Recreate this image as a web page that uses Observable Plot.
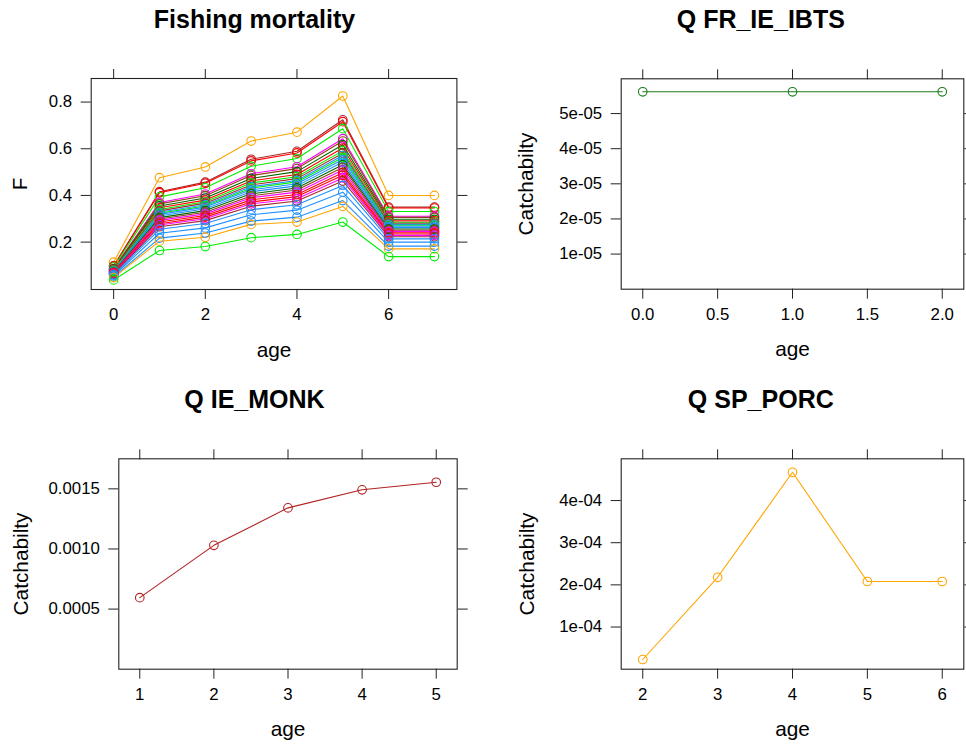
<!DOCTYPE html>
<html><head><meta charset="utf-8">
<script src="https://cdn.jsdelivr.net/npm/d3@7"></script>
<script src="https://cdn.jsdelivr.net/npm/@observablehq/plot@0.6"></script>
<style>
html,body{margin:0;padding:0;background:#fff;overflow:hidden}
#wrap{position:relative;width:966px;height:747px;background:#fff}
.panel{position:absolute}
.panel svg{overflow:visible}
</style></head><body><div id="wrap"></div>
<script>
// ---------- Fishing mortality ----------
const fAges = [0, 1, 2, 3, 4, 5, 6, 7];
const fColors = [
  "#FFA500", "#A52A2A", "#FF0000", "#00EE00", "#FF00FF", "#8B4513", "#006400",
  "#FF0000", "#00EE00", "#A52A2A", "#1E90FF", "#00EE00", "#1E90FF", "#1E90FF",
  "#006400", "#8B4513", "#FF00FF", "#FF0000", "#FF0000", "#FF00FF", "#A52A2A",
  "#1E90FF", "#1E90FF", "#1E90FF", "#FFA500", "#00EE00"
];
const fValues = [
  [0.114, 0.476, 0.522, 0.633, 0.671, 0.826, 0.400, 0.400],
  [0.098, 0.416, 0.457, 0.555, 0.589, 0.724, 0.350, 0.350],
  [0.097, 0.412, 0.452, 0.548, 0.582, 0.716, 0.346, 0.346],
  [0.093, 0.394, 0.433, 0.525, 0.558, 0.686, 0.331, 0.331],
  [0.087, 0.370, 0.406, 0.493, 0.523, 0.643, 0.311, 0.311],
  [0.086, 0.364, 0.399, 0.485, 0.515, 0.633, 0.306, 0.306],
  [0.084, 0.355, 0.389, 0.473, 0.502, 0.617, 0.298, 0.298],
  [0.082, 0.347, 0.380, 0.462, 0.490, 0.603, 0.291, 0.291],
  [0.080, 0.340, 0.373, 0.453, 0.480, 0.591, 0.285, 0.285],
  [0.079, 0.334, 0.367, 0.445, 0.472, 0.581, 0.281, 0.281],
  [0.078, 0.328, 0.360, 0.437, 0.464, 0.571, 0.276, 0.276],
  [0.077, 0.324, 0.355, 0.431, 0.458, 0.563, 0.272, 0.272],
  [0.075, 0.319, 0.350, 0.424, 0.450, 0.554, 0.268, 0.268],
  [0.074, 0.312, 0.343, 0.416, 0.441, 0.543, 0.262, 0.262],
  [0.072, 0.305, 0.335, 0.407, 0.432, 0.531, 0.256, 0.256],
  [0.071, 0.299, 0.328, 0.398, 0.423, 0.520, 0.251, 0.251],
  [0.069, 0.293, 0.321, 0.390, 0.414, 0.509, 0.246, 0.246],
  [0.068, 0.286, 0.314, 0.381, 0.404, 0.497, 0.240, 0.240],
  [0.066, 0.279, 0.307, 0.372, 0.395, 0.486, 0.235, 0.235],
  [0.065, 0.273, 0.300, 0.364, 0.386, 0.475, 0.229, 0.229],
  [0.063, 0.266, 0.292, 0.354, 0.376, 0.462, 0.223, 0.223],
  [0.060, 0.255, 0.280, 0.339, 0.360, 0.443, 0.214, 0.214],
  [0.056, 0.238, 0.261, 0.317, 0.337, 0.414, 0.200, 0.200],
  [0.051, 0.217, 0.239, 0.290, 0.307, 0.378, 0.183, 0.183],
  [0.048, 0.204, 0.221, 0.276, 0.286, 0.353, 0.171, 0.171],
  [0.038, 0.164, 0.181, 0.219, 0.233, 0.286, 0.138, 0.138]
];
const fXTicks = [0, 2, 4, 6];
const fXTickLabels = ["0", "2", "4", "6"];
const fYTicks = [0.2, 0.4, 0.6, 0.8];
const fYTickLabels = ["0.2", "0.4", "0.6", "0.8"];

// ---------- Q FR_IE_IBTS ----------
const ibtsAges = [0, 1, 2];
const ibtsQ = [5.62e-5, 5.62e-5, 5.62e-5];
const ibtsXTicks = [0, 0.5, 1, 1.5, 2];
const ibtsXTickLabels = ["0.0", "0.5", "1.0", "1.5", "2.0"];
const ibtsYTicks = [1e-5, 2e-5, 3e-5, 4e-5, 5e-5];
const ibtsYTickLabels = ["1e-05", "2e-05", "3e-05", "4e-05", "5e-05"];

// ---------- Q IE_MONK ----------
const monkAges = [1, 2, 3, 4, 5];
const monkQ = [0.000595, 0.00103, 0.001342, 0.001492, 0.001555];
const monkXTicks = [1, 2, 3, 4, 5];
const monkXTickLabels = ["1", "2", "3", "4", "5"];
const monkYTicks = [0.0005, 0.001, 0.0015];
const monkYTickLabels = ["0.0005", "0.0010", "0.0015"];

// ---------- Q SP_PORC ----------
const porcAges = [2, 3, 4, 5, 6];
const porcQ = [2.3e-5, 2.18e-4, 4.67e-4, 2.08e-4, 2.08e-4];
const porcXTicks = [2, 3, 4, 5, 6];
const porcXTickLabels = ["2", "3", "4", "5", "6"];
const porcYTicks = [1e-4, 2e-4, 3e-4, 4e-4];
const porcYTickLabels = ["1e-04", "2e-04", "3e-04", "4e-04"];

const FONT = "'Liberation Sans', Arial, Helvetica, sans-serif";
const INK = "#222";

function fmt(ticks, labels) {
  return d => { const i = ticks.indexOf(d); return i >= 0 ? labels[i] : ""; };
}

function panel(o) {
  const marks = [
    Plot.frame({stroke: INK, strokeWidth: 1.1}),
    Plot.axisX({anchor: "bottom", ticks: o.xTicks, tickSize: 10, tickPadding: 9,
      tickFormat: fmt(o.xTicks, o.xLabels), label: null, stroke: INK, fill: "#000"}),
    Plot.axisX({anchor: "top", ticks: o.xTicks, tickSize: 10,
      tickFormat: () => "", label: null, stroke: INK}),
    Plot.axisY({anchor: "left", ticks: o.yTicks, tickSize: 10, tickPadding: 9,
      tickFormat: fmt(o.yTicks, o.yLabels), label: null, stroke: INK, fill: "#000"}),
    Plot.axisY({anchor: "right", ticks: o.yTicks, tickSize: 10,
      tickFormat: () => "", label: null, stroke: INK}),
    Plot.line(o.data, {x: "age", y: "v", z: "s", stroke: "c", strokeWidth: 1.1}),
    Plot.dot(o.data, {x: "age", y: "v", stroke: "c", fill: "none", r: 4.3, strokeWidth: 1.1}),
    Plot.text([o.title], {frameAnchor: "top-left", dx: o.titleX - o.ml, dy: o.titleBase - o.mt,
      lineAnchor: "bottom", textAnchor: "middle", fontSize: 25, fontWeight: "bold", fill: "#000"}),
    Plot.text(["age"], {frameAnchor: "bottom", dy: 67, lineAnchor: "bottom",
      textAnchor: "middle", fontSize: 20.8, fill: "#000"}),
    Plot.text([o.ylab], {frameAnchor: "left", dx: o.ylabDx, rotate: -90,
      textAnchor: "middle", lineAnchor: "middle", fontSize: 20.8, fill: "#000"})
  ];
  const chart = Plot.plot({
    width: o.width, height: o.height,
    marginTop: o.mt, marginBottom: o.mb, marginLeft: o.ml, marginRight: o.mr,
    x: {domain: o.xDomain},
    y: {domain: o.yDomain},
    color: {type: "identity"},
    style: {fontFamily: FONT, fontSize: "16.8px", color: "#000", background: "transparent", overflow: "visible"},
    marks
  });
  const div = document.createElement("div");
  div.className = "panel";
  div.style.left = o.left + "px";
  div.style.top = o.top + "px";
  div.appendChild(chart);
  document.getElementById("wrap").appendChild(div);
}

const fData = fValues.flatMap((vals, k) => vals.map((v, j) => ({age: fAges[j], v, s: k, c: fColors[k]})));
const ibtsData = ibtsAges.map((a, j) => ({age: a, v: ibtsQ[j], s: 0, c: "#1B7A1B"}));
const monkData = monkAges.map((a, j) => ({age: a, v: monkQ[j], s: 0, c: "#B22222"}));
const porcData = porcAges.map((a, j) => ({age: a, v: porcQ[j], s: 0, c: "#FFA500"}));

panel({left: 0, top: 0, width: 483, height: 373, mt: 78, mb: 84, ml: 90.7, mr: 26.6,
  xDomain: [-0.49, 7.49], yDomain: [-0.003, 0.901],
  xTicks: fXTicks, xLabels: fXTickLabels, yTicks: fYTicks, yLabels: fYTickLabels,
  data: fData, title: "Fishing mortality", titleX: 254, titleBase: 27.3, ylab: "F", ylabDx: -70.7});

panel({left: 483, top: 0, width: 483, height: 373, mt: 78.3, mb: 84.3, ml: 137.7, mr: 2.7,
  xDomain: [-0.144, 2.144], yDomain: [0, 5.99e-5],
  xTicks: ibtsXTicks, xLabels: ibtsXTickLabels, yTicks: ibtsYTicks, yLabels: ibtsYTickLabels,
  data: ibtsData, title: "Q FR_IE_IBTS", titleX: 277.3, titleBase: 27.3, ylab: "Catchabilty", ylabDx: -94.7});

panel({left: 0, top: 373, width: 483, height: 374, mt: 85.3, mb: 78.3, ml: 118.3, mr: 26.3,
  xDomain: [0.717, 5.283], yDomain: [0, 0.00175],
  xTicks: monkXTicks, xLabels: monkXTickLabels, yTicks: monkYTicks, yLabels: monkYTickLabels,
  data: monkData, title: "Q IE_MONK", titleX: 254, titleBase: 34.3, ylab: "Catchabilty", ylabDx: -97.6});

panel({left: 483, top: 373, width: 483, height: 374, mt: 85.3, mb: 78.3, ml: 137.7, mr: 2.7,
  xDomain: [1.712, 6.288], yDomain: [0, 4.99e-4],
  xTicks: porcXTicks, xLabels: porcXTickLabels, yTicks: porcYTicks, yLabels: porcYTickLabels,
  data: porcData, title: "Q SP_PORC", titleX: 277.3, titleBase: 34.3, ylab: "Catchabilty", ylabDx: -94});
</script>
</body></html>
